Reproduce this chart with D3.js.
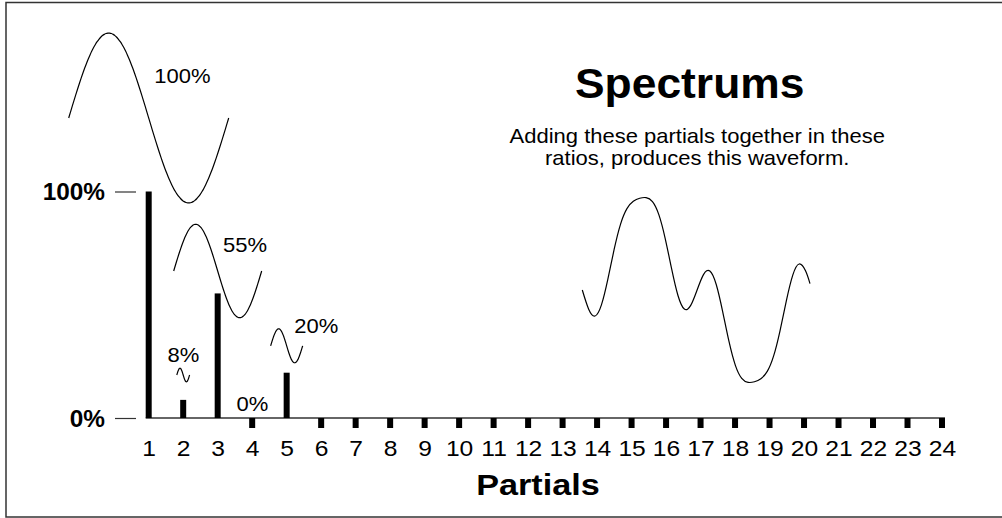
<!DOCTYPE html>
<html>
<head>
<meta charset="utf-8">
<script src="https://cdn.jsdelivr.net/npm/d3@7"></script>
<style>
  html, body { margin: 0; padding: 0; background: #fff; }
  svg { display: block; font-family: "Liberation Sans", Arial, Helvetica, sans-serif; }
</style>
</head>
<body>
<svg id="chart" width="1002" height="518"></svg>
<script>
// ---- data ----
const partials = d3.range(1, 25);
const amplitudes = [1, 0.08, 0.55, 0, 0.2, 0, 0, 0, 0, 0, 0, 0,
                    0, 0, 0, 0, 0, 0, 0, 0, 0, 0, 0, 0];
const labelledPartials = [1, 2, 3, 4, 5];
const yTickValues = [0, 1];
const titleText = "Spectrums";
const subtitleLines = ["Adding these partials together in these", "ratios, produces this waveform."];
const xTitleText = "Partials";
// resulting waveform over one cycle: phase in degrees, level relative to the fundamental
const wavePhase = [0, 10, 20, 30, 40, 50, 60, 70, 80, 90, 100, 110, 120, 130, 140, 150, 160, 170,
                   180, 190, 200, 210, 220, 230, 240, 250, 260, 270, 280, 290, 300, 310, 320, 330, 340, 350, 357];
const waveLevel = [0, -0.282, -0.383, -0.219, 0.156, 0.600, 0.970, 1.198, 1.305, 1.350, 1.360, 1.301,
                   1.109, 0.758, 0.314, -0.081, -0.280, -0.227, 0, 0.227, 0.280, 0.081, -0.314, -0.758,
                   -1.109, -1.301, -1.360, -1.350, -1.305, -1.198, -0.970, -0.600, -0.156, 0.219, 0.383, 0.282, 0.094];

// ---- layout ----
const svg = d3.select("#chart");
const fmtPct = d3.format(".0%");

// scaled text helper (typeface runs slightly wide here)
function addText(parent, x, y, str, size, weight, anchor, sx) {
  return parent.append("text")
    .attr("transform", `translate(${x},${y}) scale(${sx},1)`)
    .attr("text-anchor", anchor)
    .attr("font-size", size)
    .attr("font-weight", weight)
    .attr("fill", "#000")
    .text(str);
}

// frame
svg.append("rect")
  .attr("x", 6).attr("y", 2.5)
  .attr("width", 1010).attr("height", 514.5)
  .attr("fill", "none").attr("stroke", "#333").attr("stroke-width", 1.5);

const x = d3.scaleLinear().domain([1, 24]).range([148.7, 942]);
const y = d3.scaleLinear().domain([0, 1]).range([418, 191.5]);
const barW = 6, stubLen = 10;

// baseline
svg.append("line")
  .attr("x1", x(1) - barW / 2).attr("x2", x(24) + barW / 2)
  .attr("y1", y(0)).attr("y2", y(0))
  .attr("stroke", "#333").attr("stroke-width", 1.3);

// bars (silent partials shown as a short stub below the baseline)
svg.append("g").selectAll("rect")
  .data(partials.map((p, i) => ({ p, v: amplitudes[i] })))
  .join("rect")
  .attr("x", d => x(d.p) - barW / 2)
  .attr("width", barW)
  .attr("y", d => d.v > 0 ? y(d.v) : y(0))
  .attr("height", d => d.v > 0 ? y(0) - y(d.v) : stubLen)
  .attr("fill", "#000");

// x axis labels
const xAxis = svg.append("g")
  .attr("transform", `translate(0,${y(0)})`)
  .call(d3.axisBottom(x).tickValues(partials).tickSize(0).tickPadding(22.4).tickFormat(d3.format("d")));
xAxis.select(".domain").remove();
xAxis.selectAll("text")
  .attr("font-size", 22)
  .attr("font-family", "Liberation Sans, Arial, sans-serif")
  .attr("fill", "#000")
  .attr("transform", "scale(1.12,1)");

// y axis
const yAxis = svg.append("g")
  .attr("transform", "translate(136,0)")
  .call(d3.axisLeft(y).tickValues(yTickValues).tickSize(21).tickPadding(10).tickFormat(fmtPct));
yAxis.select(".domain").remove();
yAxis.selectAll(".tick line").attr("stroke", "#333").attr("stroke-width", 1.2);
yAxis.selectAll("text")
  .attr("font-size", 23)
  .attr("font-weight", "bold")
  .attr("font-family", "Liberation Sans, Arial, sans-serif")
  .attr("fill", "#000")
  .attr("dy", "0.36em")
  .attr("transform", "translate(-31,0) scale(1.06,1) translate(31,0)");

// axis title
addText(svg, 538, 495, xTitleText, 30, "bold", "middle", 1.14);

// title and note
addText(svg, 689.7, 97.5, titleText, 42.5, "bold", "middle", 1.045);
subtitleLines.forEach((line, i) => addText(svg, 697.2, 143 + i * 22, line, 20, "normal", "middle", 1.1));

// single-partial sine icons: width and height follow each partial's amplitude
const iconPeriod = d3.scaleLinear().domain([0, 1]).range([0, 160]);
const iconAmp = d3.scaleLinear().domain([0, 1]).range([0, 85]);
const iconCenterY = { 1: 118, 2: 375, 3: 271, 5: 345.8 };
const labelAt = { 1: [154.3, 82.7], 2: [167.4, 361.5], 3: [223, 252.3], 4: [236.4, 410.5], 5: [294.3, 332.5] };
const deg = d3.range(0, 361, 4);

labelledPartials.forEach(p => {
  const v = amplitudes[p - 1];
  if (v > 0) {
    const P = iconPeriod(v), A = iconAmp(v);
    const x0 = x(p) - P / 2, cy = iconCenterY[p];
    const line = d3.line()
      .x(a => x0 + P * a / 360)
      .y(a => cy - A * Math.sin(a * Math.PI / 180))
      .curve(d3.curveBasis);
    svg.append("path")
      .attr("d", line(deg))
      .attr("fill", "none").attr("stroke", "#000").attr("stroke-width", 1.2);
  }
  const [lx, ly] = labelAt[p];
  addText(svg, lx, ly, fmtPct(v), 20, "normal", "start", 1.1);
});

// combined waveform
const wx = d3.scaleLinear().domain([0, 360]).range([582.3, 582.3 + 229.6]);
const wy = d3.scaleLinear().domain([-1.35, 1.35]).range([381.7, 198.3]);
const waveLine = d3.line()
  .x((d, i) => wx(wavePhase[i]))
  .y(d => wy(d))
  .curve(d3.curveNatural);
svg.append("path")
  .attr("d", waveLine(waveLevel))
  .attr("fill", "none").attr("stroke", "#000").attr("stroke-width", 1.2);
</script>
</body>
</html>
